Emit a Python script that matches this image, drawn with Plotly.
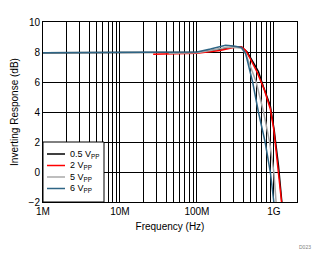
import plotly.graph_objects as go
import numpy as np

# 0.5 Vpp
f_05 = [1e6, 1e7, 5e7, 1e8, 1.5e8, 2e8, 3e8, 3.8e8, 4.5e8, 5.4e8, 6.3e8, 7.3e8, 9e8, 1.01e9, 1.15e9, 1.27e9]
v_05 = [7.95, 7.95, 7.95, 7.98, 8.08, 8.18, 8.33, 8.33, 8.0, 7.3, 6.7, 5.7, 4.4, 2.8, 0.4, -2.0]
# 2 Vpp
f_2 = [2.7e7, 7e7, 1e8, 2e8, 3e8, 3.8e8, 4.3e8, 5e8, 6e8, 7.5e8, 9e8, 1e9, 1.1e9, 1.26e9]
v_2 = [7.85, 7.87, 7.92, 8.1, 8.3, 8.35, 8.1, 7.5, 6.7, 5.5, 4.2, 2.8, 0.8, -2.0]
# 5 Vpp
f_5 = [4.3e7, 1e8, 1.5e8, 2.5e8, 3.2e8, 3.8e8, 4.3e8, 5e8, 5.9e8, 7.35e8, 8.8e8, 1.0e9, 1.07e9]
v_5 = [7.92, 7.95, 8.1, 8.32, 8.3, 8.25, 7.9, 7.0, 6.0, 4.0, 2.0, 0.0, -2.0]
# 6 Vpp
f_6 = [1e6, 1e7, 5e7, 1e8, 1.5e8, 2.36e8, 3e8, 3.8e8, 4.3e8, 5.3e8, 6.3e8, 7.7e8, 9e8, 1.0e9]
v_6 = [7.95, 7.95, 7.95, 8.0, 8.2, 8.45, 8.4, 8.3, 7.9, 6.0, 4.0, 2.0, 0.0, -2.0]

names = ["0.5 V<sub>PP</sub>", "2 V<sub>PP</sub>", "5 V<sub>PP</sub>", "6 V<sub>PP</sub>"]
colors = ["#000000", "#FF0000", "#A8A8A8", "#2E6585"]

major_vals = [1e6, 1e7, 1e8, 1e9]
major_text = ["1M", "10M", "100M", "1G"]
minor_vals = [m * 10 ** d for d in range(6, 10) for m in range(2, 10) if m * 10 ** d <= 2e9]

fig = go.Figure()
for f, v, n, c in zip([f_05, f_2, f_5, f_6], [v_05, v_2, v_5, v_6], names, colors):
    fig.add_trace(go.Scatter(x=f, y=v, mode="lines", name=n, line=dict(color=c, width=1.5),
                             showlegend=False))

# compact legend box (paper coordinates)
pw, ph = 254.0, 180.0
shapes = [dict(type="rect", xref="paper", yref="paper", x0=0, x1=61 / pw, y0=0, y1=60 / ph,
               fillcolor="white", line=dict(color="black", width=1), layer="above")]
annotations = []
ys = [154, 165.5, 177, 188.5]
for n, c, yp in zip(names, colors, ys):
    yy = (202 - yp) / ph
    shapes.append(dict(type="line", xref="paper", yref="paper", x0=4 / pw, x1=22 / pw, y0=yy, y1=yy,
                       line=dict(color=c, width=1.5), layer="above"))
    annotations.append(dict(text=n, xref="paper", yref="paper", x=25 / pw, y=yy, xanchor="left",
                            yanchor="middle", showarrow=False, font=dict(size=9, color="black")))
annotations.append(dict(text="D023", x=1.0, y=-0.28, xref="paper", yref="paper", showarrow=False,
                        xanchor="left", font=dict(size=5, color="#808080")))

fig.update_layout(
    width=326, height=254,
    margin=dict(l=43, r=29, t=22, b=52),
    paper_bgcolor="white", plot_bgcolor="white",
    font=dict(family="Liberation Sans, Arial", size=10, color="black"),
    showlegend=False,
    xaxis=dict(type="log", range=[6, np.log10(2e9)], tickvals=major_vals, ticktext=major_text,
               showgrid=True, gridcolor="black", gridwidth=1, ticks="",
               minor=dict(tickvals=minor_vals, showgrid=True, gridcolor="black", gridwidth=1, ticks=""),
               showline=True, linecolor="black", linewidth=1, mirror=True,
               title=dict(text="Frequency (Hz)", font=dict(size=10), standoff=6), zeroline=False),
    yaxis=dict(range=[-2, 10], dtick=2, showgrid=True, gridcolor="black", gridwidth=1, ticks="",
               showline=True, linecolor="black", linewidth=1, mirror=True, zeroline=False,
               title=dict(text="Inverting Response (dB)", font=dict(size=10), standoff=8)),
    shapes=shapes,
    annotations=annotations,
)
fig.write_html("out.html")
